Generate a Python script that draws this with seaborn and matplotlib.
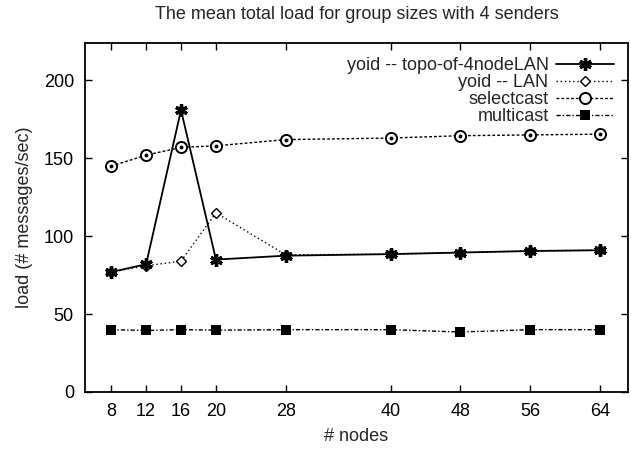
import matplotlib
matplotlib.use("Agg")
import matplotlib.pyplot as plt
import seaborn as sns
import pandas as pd

nodes = [8, 12, 16, 20, 28, 40, 48, 56, 64]
yoid_topo = [77, 82, 181, 85, 87.5, 88.5, 89.5, 90.5, 91]
yoid_lan = [77, 81, 84, 115, 88, 88.5, 89.5, 90.5, 91]
selectcast = [145, 152, 157, 158, 162, 163, 164.5, 165, 165.5]
multicast = [40, 39.5, 40, 39.7, 40, 40, 38.5, 40, 40]
xticks = [8, 12, 16, 20, 28, 40, 48, 56, 64]
yticks = [0, 50, 100, 150, 200]

sns.set_style("ticks")
plt.rcParams['font.family'] = ['Liberation Sans', 'DejaVu Sans']
plt.rcParams['xtick.direction'] = 'in'
plt.rcParams['ytick.direction'] = 'in'
plt.rcParams['xtick.top'] = True
plt.rcParams['ytick.right'] = True

fig = plt.figure(figsize=(6.31, 4.5), dpi=100)
ax = fig.add_axes([85/631, 1-392/450, (628-85)/631, (392-43)/450])

fs = 13
sns.lineplot(x=nodes, y=yoid_lan, ax=ax, color='black', lw=1.0, linestyle=(0, (1, 2)),
             marker='D', markersize=5, markerfacecolor='white', markeredgecolor='black',
             markeredgewidth=1.0, label='yoid -- LAN', zorder=2)
sns.lineplot(x=nodes, y=yoid_topo, ax=ax, color='black', lw=1.3, linestyle='-',
             marker=(6, 2, 0), markersize=9, markeredgewidth=2.4, markeredgecolor='black',
             label='yoid -- topo-of-4nodeLAN', zorder=3)
sns.lineplot(x=nodes, y=selectcast, ax=ax, color='black', lw=1.0, linestyle=(0, (2, 1.5)),
             marker='o', markersize=8, markerfacecolor='white', markeredgecolor='black',
             markeredgewidth=1.4, label='selectcast', zorder=3)
ax.plot(nodes, selectcast, linestyle='none', marker='o', markersize=1.8, color='black', zorder=4)
sns.lineplot(x=nodes, y=multicast, ax=ax, color='black', lw=1.0, linestyle=(0, (3, 1.5, 1, 1.5)),
             marker='s', markersize=6.5, markeredgewidth=0, markeredgecolor='black',
             label='multicast', zorder=3)

ax.set_xlim(5, 67.2)
ax.set_ylim(0, 224)
ax.set_xticks(xticks)
ax.set_xticklabels([str(v) for v in xticks], fontsize=fs)
ax.set_yticks(yticks)
ax.set_yticklabels([str(v) for v in yticks], fontsize=fs)
ax.tick_params(length=5, width=1, colors='black', pad=8)
for s in ax.spines.values():
    s.set_visible(True)
    s.set_linewidth(1.3)
    s.set_color('black')

ax.set_xlabel('# nodes', fontsize=fs, labelpad=6)
ax.set_ylabel('load (# messages/sec)', fontsize=fs, labelpad=8)
ax.set_title('The mean total load for group sizes with 4 senders', fontsize=fs, pad=17)

h, l = ax.get_legend_handles_labels()
order = [l.index(n) for n in ['yoid -- topo-of-4nodeLAN', 'yoid -- LAN', 'selectcast', 'multicast']]
leg = ax.legend([h[i] for i in order], [l[i] for i in order], loc='upper right',
                markerfirst=False, frameon=False, fontsize=fs,
                handlelength=3.2, labelspacing=0.0, borderaxespad=0.5, handletextpad=0.4,
                borderpad=0.3)

fig.savefig('out.png', dpi=100)
